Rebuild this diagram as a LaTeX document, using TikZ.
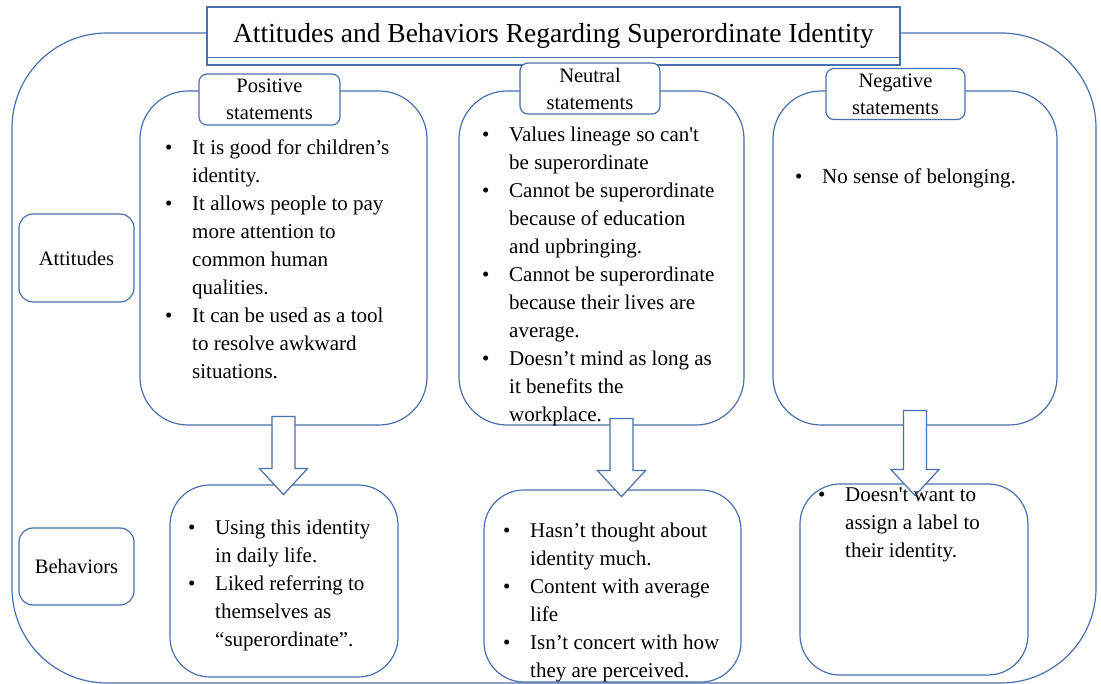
\documentclass[tikz,border=0pt]{standalone}
\usepackage{fontspec}
\setmainfont{Liberation Serif}
\usetikzlibrary{positioning}

\definecolor{boxblue}{RGB}{74,112,173}

% bullet and continuation lines
\newcommand{\bul}{\makebox[27pt][l]{\textbullet}}
\newcommand{\nxt}{\hspace*{27pt}}

\tikzset{
  panel/.style={draw=boxblue, line width=1.2pt, fill=white, rounded corners=#1, inner sep=0pt},
  tag/.style={panel=8pt, minimum width=#1, minimum height=51pt, align=center,
    font=\fontsize{20.5}{27}\selectfont, execute at begin node={\rule{0pt}{23pt}}},
  side/.style={panel=14pt, minimum width=115pt, font=\fontsize{20.5}{25}\selectfont},
  stmt/.style={anchor=north west, inner sep=0pt, align=left,
    font=\fontsize{21}{28}\selectfont, execute at begin node={\rule{0pt}{15pt}}},
  arrowline/.style={draw=boxblue, line width=1.2pt, fill=white, line join=miter},
  pics/downarr/.style={code={
    \draw[arrowline] (-11.5,0) -- (-11.5,#1) -- (-24,#1) -- (0,{#1+26})
      -- (24,#1) -- (11.5,#1) -- (11.5,0) -- cycle;
  }}
}

\begin{document}
\begin{tikzpicture}[x=1pt, y=-1pt]
    \useasboundingbox (0,0) rectangle (1101,684);

    % Outer frame and title
    \node[panel=95pt, minimum width=1084pt, minimum height=650pt] (frame) at (554,358) {};
    \node[panel=0pt, minimum width=693pt, minimum height=58pt,
      font=\fontsize{27.5}{33}\selectfont] (title) at (553.5,36)
      {Attitudes and Behaviors Regarding Superordinate Identity};
    \draw[boxblue, line width=1.2pt] ([yshift=8pt]title.south west) -- ([yshift=8pt]title.south east);

    % Attitude boxes
    \node[panel=48pt, minimum width=287pt, minimum height=334pt] (posatt) at (283.5,258) {};
    \node[panel=48pt, minimum width=285pt, minimum height=334pt] (neuatt) at (601.5,258) {};
    \node[panel=48pt, minimum width=284pt, minimum height=334pt] (negatt) at (915,258) {};

    % Statement tags
    \node[tag=141pt] (poslab) at (269.5,99.5) {Positive\\statements};
    \node[tag=140pt] (neulab) at (590,88.5) {Neutral\\statements};
    \node[tag=139pt] (neglab) at (895.5,94) {Negative\\statements};

    % Row labels
    \node[side, minimum height=88pt] (attlab) at (76.5,258) {Attitudes};
    \node[side, minimum height=77pt] (behlab) at (76.5,566.5) {Behaviors};

    % Behavior boxes
    \node[panel=40pt, minimum width=228pt, minimum height=192pt] (posbeh) at (284,581) {};
    \node[panel=40pt, minimum width=257pt, minimum height=192pt] (neubeh) at (612.5,586) {};
    \node[panel=40pt, minimum width=228pt, minimum height=191pt] (negbeh) at (914,579.5) {};

    % Block arrows
    \pic at ([yshift=9pt]posatt.south) {downarr=52};
    \pic at ([yshift=7pt, xshift=20pt]neuatt.south) {downarr=52};
    \pic at ([yshift=15pt]negatt.south) {downarr=59};

    % Statements
    \node[stmt] (posatxt) at (165,140) {%
      \bul It is good for children’s\\
      \nxt identity.\\
      \bul It allows people to pay\\
      \nxt more attention to\\
      \nxt common human\\
      \nxt qualities.\\
      \bul It can be used as a tool\\
      \nxt to resolve awkward\\
      \nxt situations.};
    \node[stmt] (neuatxt) at (482,127) {%
      \bul Values lineage so can\textquotesingle t\\
      \nxt be superordinate\\
      \bul Cannot be superordinate\\
      \nxt because of education\\
      \nxt and upbringing.\\
      \bul Cannot be superordinate\\
      \nxt because their lives are\\
      \nxt average.\\
      \bul Doesn’t mind as long as\\
      \nxt it benefits the\\
      \nxt workplace.};
    \node[stmt] (negatxt) at (795,168) {\bul No sense of belonging.};
    \node[stmt] (posbtxt) at (188,520) {%
      \bul Using this identity\\
      \nxt in daily life.\\
      \bul Liked referring to\\
      \nxt themselves as\\
      \nxt “superordinate”.};
    \node[stmt] (neubtxt) at (503,523) {%
      \bul Hasn’t thought about\\
      \nxt identity much.\\
      \bul Content with average\\
      \nxt life\\
      \bul Isn’t concert with how\\
      \nxt they are perceived.};
    \node[stmt] (negbtxt) at (818,488) {%
      \bul Doesn\textquotesingle t want to\\
      \nxt assign a label to\\
      \nxt their identity.};
\end{tikzpicture}
\end{document}
